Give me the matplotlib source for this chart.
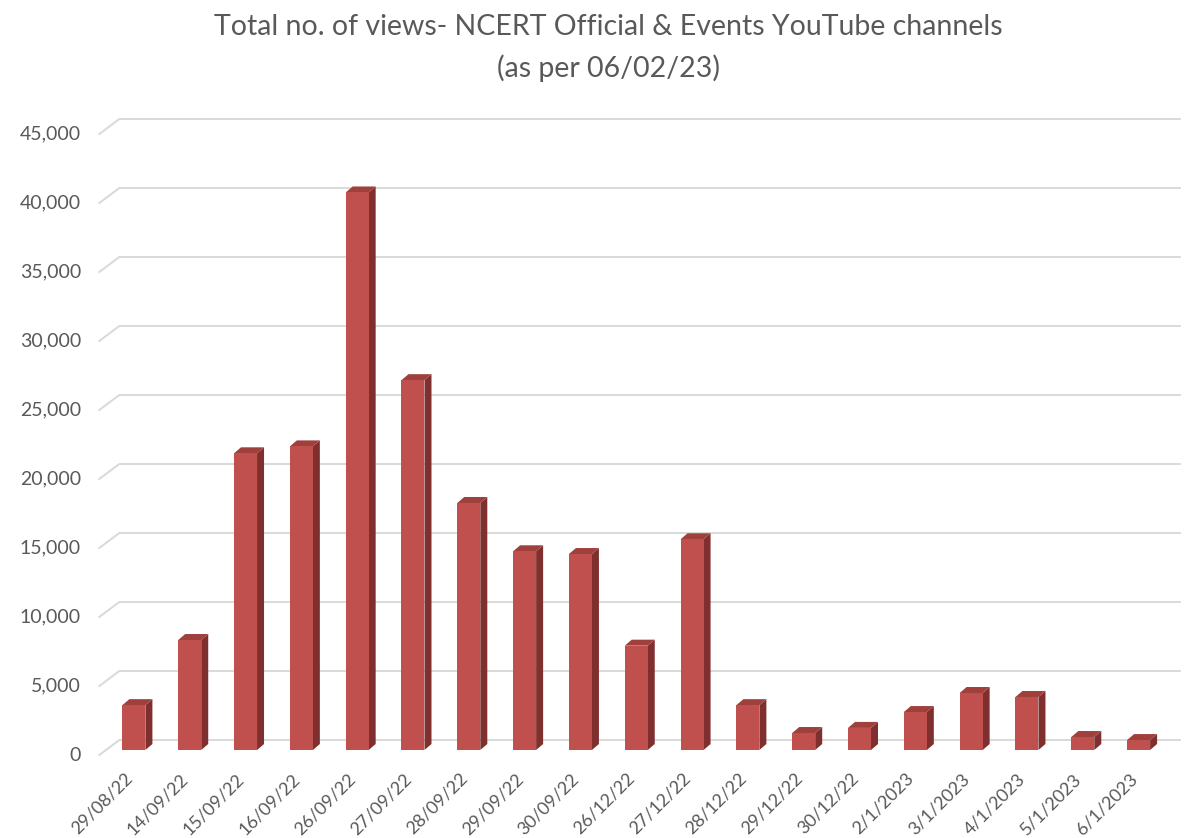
import matplotlib
matplotlib.use("Agg")
import matplotlib.pyplot as plt

# data
dates = ["29/08/22", "14/09/22", "15/09/22", "16/09/22", "26/09/22", "27/09/22",
         "28/09/22", "29/09/22", "30/09/22", "26/12/22", "27/12/22", "28/12/22",
         "29/12/22", "30/12/22", "2/1/2023", "3/1/2023", "4/1/2023", "5/1/2023",
         "6/1/2023"]
views = [3250, 7970, 21500, 22000, 40400, 26800, 17900, 14400, 14200, 7560,
         15270, 3250, 1230, 1600, 2750, 4130, 3840, 940, 720]
y_ticks = list(range(0, 45001, 5000))

W, H, DPI = 1193, 838, 100
TXT = "#595959"
FRONT, SIDE, TOP = "#C0504D", "#7F302E", "#A0403D"
plt.rcParams["font.family"] = ["Lato", "DejaVu Sans"]

fig = plt.figure(figsize=(W / DPI, H / DPI), dpi=DPI)
x0, x1, y0, y1 = 106, 1166.5, 750, 129  # bar plane, pixels
ax = fig.add_axes([x0 / W, (H - y0) / H, (x1 - x0) / W, (y0 - y1) / H])
n = len(dates)
ax.set_xlim(-0.5, n - 0.5)
ax.set_ylim(0, 45000)
ax.axis("off")

px = (x1 - x0) / n          # pixels per category
py = (y0 - y1) / 45000      # pixels per view


def dx(p):
    return p / px


def dy(p):
    return p / py


# back wall gridlines with the little diagonal on the left
for v in y_ticks:
    ax.plot([-0.5 - dx(6.7), -0.5 + dx(13.3), n - 0.5 + dx(13.3)],
            [v - dy(5), v + dy(10), v + dy(10)],
            color="#d9d9d9", lw=1.4, zorder=1, clip_on=False)
    ax.text(-0.5 - dx(25), v - dy(5), f"{v:,}", ha="right", va="center",
            fontsize=14, color=TXT)

# 3d-looking columns
w = 23 / px
ox, oy = dx(7), dy(6)
for i, v in enumerate(views):
    l, r = i - w / 2, i + w / 2
    ax.fill([r, r + ox, r + ox, r], [0, oy, v + oy, v], color=SIDE, zorder=2, lw=0)
    ax.fill([l, l + ox, r + ox, r], [v, v + oy, v + oy, v], color=TOP, zorder=2, lw=0)
    ax.bar(i, v, width=w, color=FRONT, zorder=3, linewidth=0)
    ax.text(i - dx(4), -dy(26), dates[i], rotation=45, rotation_mode="anchor",
            ha="right", va="center", fontsize=13, color=TXT)

fig.text(608.5 / W, 1 - 27 / H, "Total no. of views- NCERT Official & Events YouTube channels",
         ha="center", va="center", fontsize=20.5, color=TXT)
fig.text(608.5 / W, 1 - 68 / H, "(as per 06/02/23)",
         ha="center", va="center", fontsize=20.5, color=TXT)

fig.savefig("out.png", dpi=DPI)
plt.close(fig)
